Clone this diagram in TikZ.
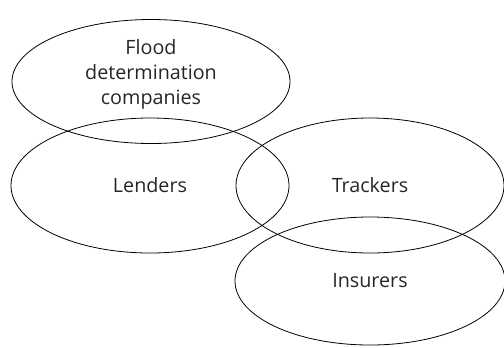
\documentclass[tikz,border=0pt]{standalone}
\usepackage{fontspec}
\setmainfont{Open Sans}
\usetikzlibrary{shapes.geometric}

\begin{document}
\begin{tikzpicture}[
    x=1bp, y=-1bp,
    group/.style={ellipse, draw, line width=0.8pt, inner sep=0pt},
    label text/.style={font=\fontsize{19.8}{25}\selectfont, text=black!85, align=center}
]

% Frame
\useasboundingbox (0,0) rectangle (504,347);

% Groups
\node[group, minimum width=278bp, minimum height=124bp] (flood) at (151,81.5) {};
\node[group, minimum width=278bp, minimum height=135bp, label text] (lenders) at (150,185.5) {Lenders};
\node[group, minimum width=268bp, minimum height=135bp, label text] (trackers) at (370,185.5) {Trackers};
\node[group, minimum width=270bp, minimum height=128bp, label text] (insurers) at (370,281) {Insurers};

% Text of the top group
\node[label text] (floodtext) at (151,74) {Flood\\determination\\companies};

\end{tikzpicture}
\end{document}
